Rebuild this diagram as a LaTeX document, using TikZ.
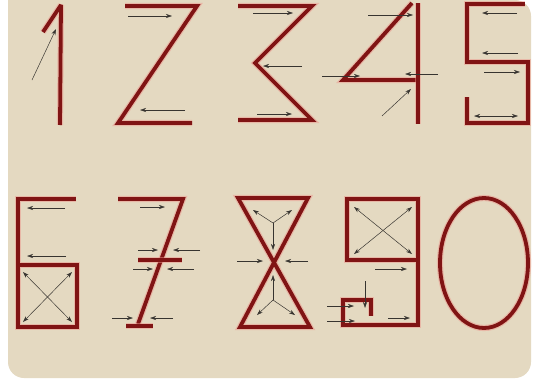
\documentclass[tikz,border=0pt]{standalone}
\usepackage{xcolor}
\usepackage{tikz}
\usetikzlibrary{arrows.meta}

\definecolor{paper}{RGB}{228,217,193}
\definecolor{digitred}{RGB}{128,20,20}
\definecolor{glow}{RGB}{236,150,140}
\definecolor{pencil}{RGB}{55,52,48}

\begin{document}
\begin{tikzpicture}[x=0.5mm,y=-0.5mm,
  digit/.style={draw=digitred,line width=1.9mm,line join=miter,miter limit=3,
    preaction={draw=glow,line width=3.1mm,opacity=0.5,miter limit=3}},
  hint/.style={draw=pencil,line width=0.7pt,-{Stealth[length=3mm,width=2mm]}},
  twoway/.style={hint,{Stealth[length=3mm,width=2mm]}-{Stealth[length=3mm,width=2mm]}}]
  \useasboundingbox (0,0) rectangle (534,383);
  \fill[white] (0,0) rectangle (534,383);
  \fill[paper,rounded corners=8mm] (8,0) -- (8,378) -- (531,378) -- (531,0) [sharp corners] -- (8,0) -- cycle;

  % top row: 1 2 3 4 5
  \draw[digit] (43,32) -- (61,5) -- (60,125);
  \draw[hint] (32,80) -- (56,29);

  \draw[digit] (125,6) -- (197,6) -- (118,123) -- (192,123);
  \draw[hint] (128,16) -- (172,16);
  \draw[hint] (185,110) -- (140,110);

  \draw[digit] (238,6) -- (312,6) -- (255,63) -- (312,120) -- (238,120);
  \foreach \ya/\xa/\xb in {13/253/293, 66/302/263, 114/257/292}
    \draw[hint] (\xa,\ya) -- (\xb,\ya);

  \draw[digit] (412,3) -- (343,80) -- (418,80);
  \draw[digit] (418,3) -- (418,124);
  \draw[hint] (368,15) -- (413,15);
  \draw[hint] (322,76) -- (360,76);
  \draw[hint] (438,74) -- (405,74);
  \draw[hint] (382,116) -- (411,89);

  \draw[digit] (525,4) -- (467,4) -- (467,62) -- (528,62) -- (528,123) -- (467,123) -- (467,97);
  \draw[hint] (517,13) -- (482,13);
  \draw[hint] (518,53) -- (482,53);
  \draw[hint] (484,72) -- (520,72);
  \draw[twoway] (474,116) -- (518,116);

  % bottom row: 6 7 8 9 0
  \draw[digit] (76,199) -- (18,199) -- (18,327) -- (77,327) -- (77,265) -- (18,265);
  \draw[hint] (65,208) -- (27,208);
  \draw[hint] (66,256) -- (27,256);
  \draw[twoway] (23,272) -- (72,322);
  \draw[twoway] (72,272) -- (23,322);

  \draw[digit] (118,199) -- (183,199) -- (138,324);
  \draw[digit] (126,326) -- (153,326);
  \draw[digit] (138,260) -- (182,260);
  \foreach \ya/\xa/\xb in {207/140/165, 250/138/158, 250/200/173, 269/133/153, 269/194/167, 318/112/133, 318/173/150}
    \draw[hint] (\xa,\ya) -- (\xb,\ya);

  \draw[digit] (238,198) -- (308,198) -- (240,327) -- (310,327) -- cycle;
  \foreach \xb/\yb in {253/210, 292/210, 273/250}
    \draw[hint] (273,223) -- (\xb,\yb);
  \foreach \xb/\yb in {257/315, 295/315, 273/275}
    \draw[hint] (273,300) -- (\xb,\yb);
  \draw[hint] (237,261) -- (263,261);
  \draw[hint] (308,261) -- (285,261);

  \draw[digit] (418,260) -- (347,260) -- (347,199) -- (418,199) -- (418,325) -- (343,325) -- (343,300) -- (371,300) -- (371,316);
  \draw[twoway] (354,207) -- (412,254);
  \draw[twoway] (412,207) -- (354,254);
  \draw[hint] (375,269) -- (407,269);
  \draw[hint] (365,281) -- (365,308);
  \draw[hint] (327,306) -- (354,306);
  \draw[hint] (327,321) -- (355,321);
  \draw[hint] (388,318) -- (410,318);

  \draw[digit] (484,263) ellipse [x radius=44, y radius=65];
\end{tikzpicture}
\end{document}
